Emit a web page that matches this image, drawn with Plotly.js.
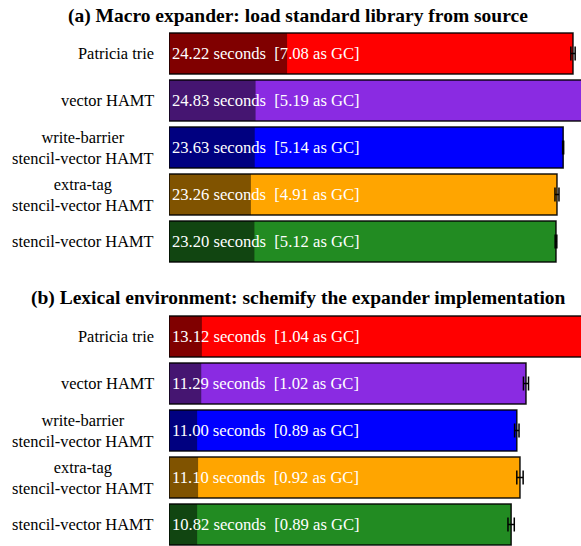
<!DOCTYPE html>
<html>
<head>
<meta charset="utf-8">
<script src="https://cdn.plot.ly/plotly-3.0.1.min.js"></script>
</head>
<body style="margin:0">
<div id="chart"></div>
<script>
// Implementations compared in both benchmarks (top to bottom)
const categories = [
  'Patricia trie',
  'vector HAMT',
  'write-barrier<br>stencil-vector HAMT',
  'extra-tag<br>stencil-vector HAMT',
  'stencil-vector HAMT'
];

// (a) Macro expander: load standard library from source
const expanderTotal = [24.22, 24.83, 23.63, 23.26, 23.20];
const expanderGC    = [7.08, 5.19, 5.14, 4.91, 5.12];
const expanderErr   = [0.13, 0.05, 0.03, 0.12, 0.05];

// (b) Lexical environment: schemify the expander implementation
const schemifyTotal = [13.12, 11.29, 11.00, 11.10, 10.82];
const schemifyGC    = [1.04, 1.02, 0.89, 0.92, 0.89];
const schemifyErr   = [0.05, 0.08, 0.07, 0.10, 0.10];

const panelTitles = [
  '(a) Macro expander: load standard library from source',
  '(b) Lexical environment: schemify the expander implementation'
];

// Bar fill for total run time, and the darker shade for the GC share
const lightColors = ['#ff0000', '#8a2be2', '#0000ff', '#ffa500', '#228b22'];
const darkColors  = ['#800000', '#451571', '#000080', '#805300', '#114511'];

const serifFamily = 'Liberation Serif';
const rows = categories.map((_, i) => i);

function panel(total, gc, err, xa, ya) {
  const labels = total.map((t, i) =>
    t.toFixed(2) + ' seconds\u00a0\u00a0[' + gc[i].toFixed(2) + ' as GC]');
  return [
    { // full run time
      type: 'bar', orientation: 'h', x: total, y: rows, width: 0.87,
      xaxis: xa, yaxis: ya,
      marker: { color: lightColors, line: { width: 0 } },
      hoverinfo: 'skip', showlegend: false
    },
    { // portion spent in GC
      type: 'bar', orientation: 'h', x: gc, y: rows, width: 0.87,
      xaxis: xa, yaxis: ya,
      marker: { color: darkColors, line: { width: 0 } },
      hoverinfo: 'skip', showlegend: false
    },
    { // outline, label and error bar
      type: 'bar', orientation: 'h', x: total, y: rows, width: 0.87,
      xaxis: xa, yaxis: ya,
      marker: { color: 'rgba(0,0,0,0)', line: { color: 'rgba(0,0,0,0.9)', width: 1.5 } },
      text: labels, textposition: 'inside', insidetextanchor: 'start',
      textangle: 0,
      textfont: { family: serifFamily, size: 16.6, color: '#ffffff' },
      error_x: { type: 'data', array: err, visible: true, color: '#000000', thickness: 1.5, width: 7 },
      hoverinfo: 'skip', showlegend: false
    }
  ];
}

const data = [
  ...panel(expanderTotal, expanderGC, expanderErr, 'x', 'y'),
  ...panel(schemifyTotal, schemifyGC, schemifyErr, 'x2', 'y2')
];

// Category names, centred line by line and right-aligned against the plot
const annotations = [];
['y', 'y2'].forEach(yref => {
  categories.forEach((c, i) => {
    annotations.push({
      text: c, x: 0, xref: 'paper', xanchor: 'right', xshift: -13,
      y: i, yref: yref, yanchor: 'middle', align: 'center',
      showarrow: false,
      font: { family: serifFamily, size: 16.4, color: '#000000' }
    });
  });
});
// Panel headings
[[panelTitles[0], 530], [panelTitles[1], 248]].forEach(([t, ypx]) => {
  annotations.push({
    text: '<b>' + t + '</b>', xref: 'paper', yref: 'paper',
    x: (298 - 169) / 412, y: ypx / 546, xanchor: 'center', yanchor: 'middle',
    showarrow: false,
    font: { family: serifFamily, size: 19.5, color: '#000000' }
  });
});

const hiddenX = { showgrid: false, zeroline: false, showticklabels: false, ticks: '', showline: false };
const hiddenY = { showgrid: false, zeroline: false, showticklabels: false, ticks: '', showline: false };

const layout = {
  width: 581, height: 546,
  margin: { l: 169, r: 0, t: 0, b: 0, pad: 0 },
  paper_bgcolor: '#ffffff', plot_bgcolor: 'rgba(0,0,0,0)',
  barmode: 'overlay',
  xaxis:  Object.assign({ domain: [0, 1], range: [0, 24.70], anchor: 'y' }, hiddenX),
  yaxis:  Object.assign({ domain: [281 / 546, 516 / 546], range: [4.5, -0.5], anchor: 'x' }, hiddenY),
  xaxis2: Object.assign({ domain: [0, 1], range: [0, 13.03], anchor: 'y2' }, hiddenX),
  yaxis2: Object.assign({ domain: [0, 233 / 546], range: [4.457, -0.5], anchor: 'x2' }, hiddenY),
  annotations: annotations
};

Plotly.newPlot('chart', data, layout, { displayModeBar: false });
</script>
</body>
</html>
